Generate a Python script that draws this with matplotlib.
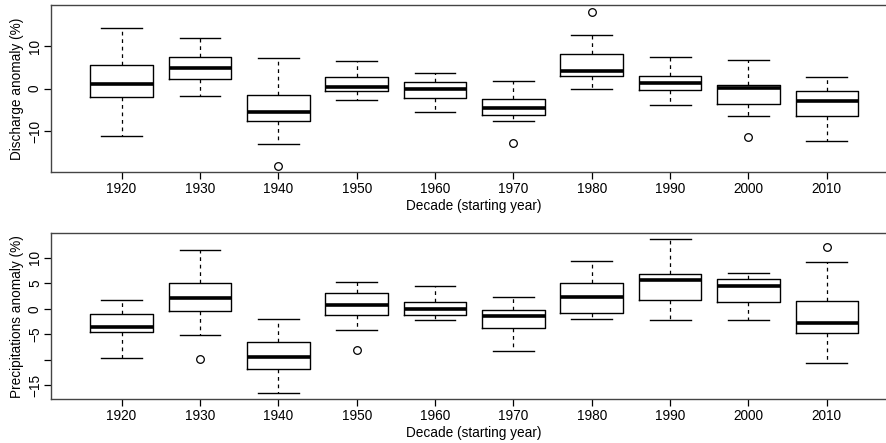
import matplotlib
matplotlib.use("Agg")
import matplotlib.pyplot as plt

plt.rcParams['font.family'] = ['Liberation Sans', 'DejaVu Sans']

decades = [1920, 1930, 1940, 1950, 1960, 1970, 1980, 1990, 2000, 2010]

# Discharge anomaly (%)
dis_whislo = [-11.0, -1.8, -12.9, -2.6, -5.5, -7.6, 0.0, -3.9, -6.3, -12.3]
dis_q1     = [-1.9, 2.3, -7.6, -0.5, -2.1, -6.2, 3.0, -0.4, -3.6, -6.3]
dis_med    = [1.1, 4.9, -5.4, 0.4, -0.1, -4.5, 4.2, 1.3, 0.2, -2.9]
dis_q3     = [5.5, 7.4, -1.5, 2.7, 1.6, -2.3, 8.2, 2.9, 0.9, -0.6]
dis_whishi = [14.3, 11.9, 7.1, 6.5, 3.7, 1.9, 12.5, 7.4, 6.8, 2.7]
dis_fliers = [[], [], [-18.0], [], [], [-12.8], [17.9], [], [-11.2], []]

# Precipitations anomaly (%)
pre_whislo = [-9.7, -5.2, -16.5, -4.2, -2.2, -8.3, -2.0, -2.2, -2.2, -10.7]
pre_q1     = [-4.6, -0.5, -11.9, -1.3, -1.3, -3.7, -0.8, 1.8, 1.3, -4.8]
pre_med    = [-3.5, 2.2, -9.4, 0.8, -0.1, -1.4, 2.4, 5.6, 4.4, -2.7]
pre_q3     = [-1.0, 5.0, -6.6, 3.1, 1.4, -0.2, 5.0, 6.8, 5.8, 1.6]
pre_whishi = [1.8, 11.6, -2.0, 5.3, 4.5, 2.4, 9.4, 13.7, 7.1, 9.2]
pre_fliers = [[], [-9.9], [], [-8.0], [], [], [], [], [], [12.2]]

dis_yticks = [-10, 0, 10]
dis_ylabels = ['\u221210', '0', '10']
pre_yticks = [-15, -10, -5, 0, 5, 10]
pre_ylabels = ['\u221215', '', '\u22125', '0', '5', '10']


def make_stats(lo, q1, med, q3, hi, fl):
    return [dict(whislo=a, q1=b, med=c, q3=d, whishi=e, fliers=f)
            for a, b, c, d, e, f in zip(lo, q1, med, q3, hi, fl)]


fig = plt.figure(figsize=(8.87, 4.43), dpi=100)
W, H = 887.0, 443.0
left = 51 / W
width = (897.4 - 51) / W
ax1 = fig.add_axes([left, 1 - 172 / H, width, 167 / H])
ax2 = fig.add_axes([left, 1 - 399 / H, width, 165.7 / H])

panels = [
    (ax1, make_stats(dis_whislo, dis_q1, dis_med, dis_q3, dis_whishi, dis_fliers),
     (-19.5, 19.6), dis_yticks, dis_ylabels, 'Discharge anomaly (%)'),
    (ax2, make_stats(pre_whislo, pre_q1, pre_med, pre_q3, pre_whishi, pre_fliers),
     (-17.7, 14.8), pre_yticks, pre_ylabels, 'Precipitations anomaly (%)'),
]

FS = 9.8
for ax, stats, ylim, yt, yl, ylab in panels:
    ax.bxp(stats, positions=decades, widths=8, capwidths=5.2,
           manage_ticks=False, showfliers=True,
           boxprops=dict(color='black', linewidth=1.0),
           medianprops=dict(color='black', linewidth=2.6, solid_capstyle='butt'),
           whiskerprops=dict(color='black', linewidth=0.9, linestyle=(0, (3, 3))),
           capprops=dict(color='black', linewidth=1.0),
           flierprops=dict(marker='o', markerfacecolor='none',
                           markeredgecolor='black', markersize=5.5,
                           markeredgewidth=0.9))
    ax.set_xlim(1911, 2019)
    ax.set_ylim(*ylim)
    ax.set_xticks(decades)
    ax.set_xticklabels([str(d) for d in decades], fontsize=FS)
    ax.set_yticks(yt)
    ax.set_yticklabels(yl, fontsize=FS, rotation=90, va='center')
    ax.tick_params(axis='both', direction='out', length=5, width=0.9, color='black')
    ax.tick_params(axis='x', pad=2.5)
    ax.tick_params(axis='y', pad=1.5)
    ax.set_ylabel(ylab, fontsize=FS, labelpad=3)
    ax.set_xlabel('Decade (starting year)', fontsize=FS, labelpad=1.5)
    for s in ax.spines.values():
        s.set_color('#444444')
        s.set_linewidth(1.0)

fig.savefig('out.png', dpi=100)
